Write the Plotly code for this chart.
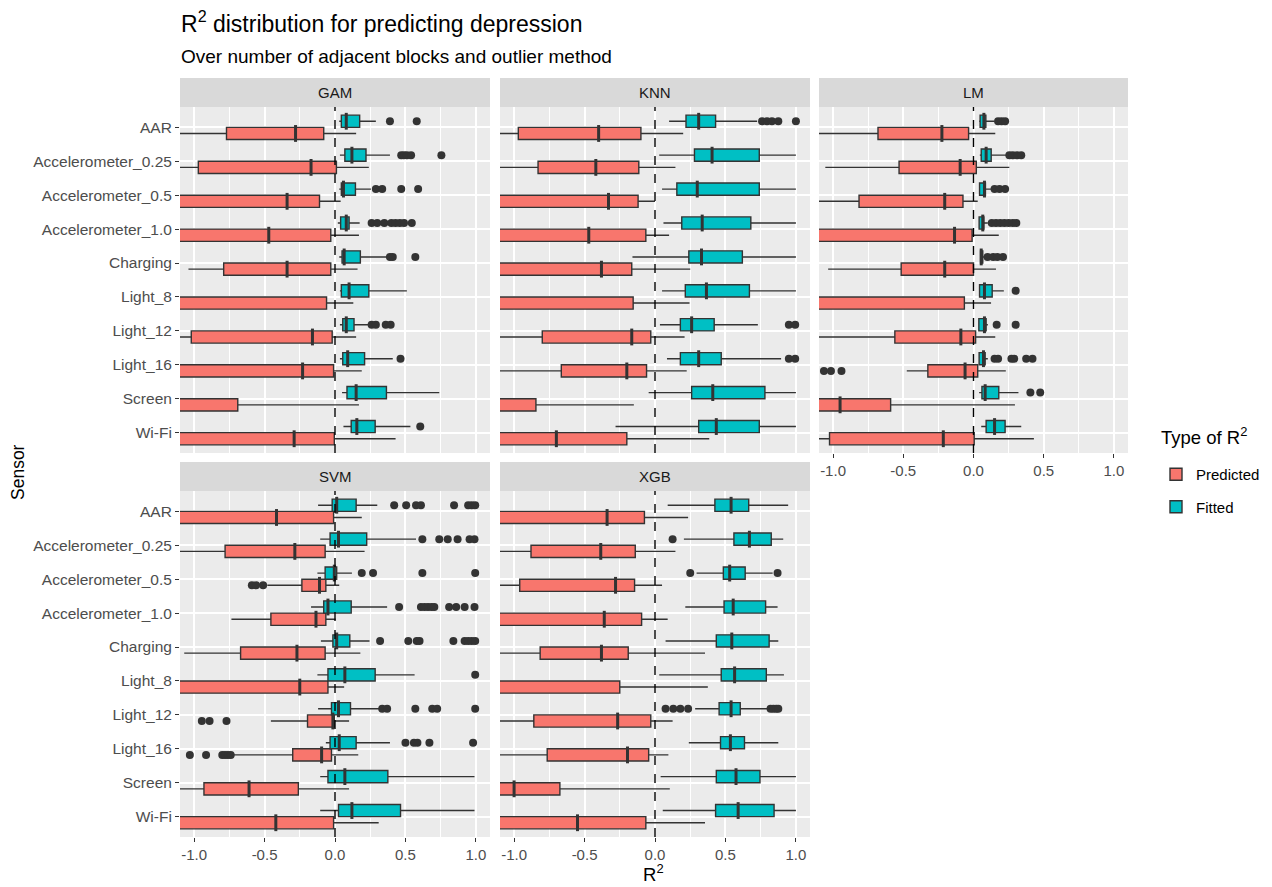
import plotly.graph_objects as go

sensors = ["AAR", "Accelerometer_0.25", "Accelerometer_0.5", "Accelerometer_1.0", "Charging",
           "Light_8", "Light_12", "Light_16", "Screen", "Wi-Fi"]
models = ["GAM", "KNN", "LM", "SVM", "XGB"]

# box summaries: whisker low, q1, median, q3, whisker high
# (values left of the panel edge are clipped in the original, so they are rough)
gam_pred = dict(low=[-1.30, -1.25, -2.5, -2.5, -1.04, -2.5, -1.15, -2.5, -2.5, -2.5],
                q1=[-0.77, -0.97, -1.40, -1.50, -0.79, -1.60, -1.02, -1.45, -1.70, -1.40],
                med=[-0.28, -0.17, -0.34, -0.47, -0.34, -1.20, -0.16, -0.23, -1.25, -0.29],
                q3=[-0.08, 0.01, -0.11, -0.03, -0.03, -0.06, -0.02, -0.01, -0.69, -0.005],
                high=[0.15, 0.24, 0.04, 0.17, 0.16, 0.13, 0.15, 0.19, 0.17, 0.43])
gam_fit = dict(low=[0.03, 0.035, 0.03, 0.02, 0.03, 0.035, 0.035, 0.035, 0.05, 0.06],
               q1=[0.045, 0.07, 0.045, 0.04, 0.05, 0.045, 0.055, 0.055, 0.085, 0.115],
               med=[0.08, 0.12, 0.06, 0.08, 0.065, 0.10, 0.08, 0.09, 0.15, 0.155],
               q3=[0.175, 0.22, 0.145, 0.10, 0.18, 0.24, 0.135, 0.21, 0.365, 0.285],
               high=[0.29, 0.39, 0.255, 0.175, 0.375, 0.51, 0.245, 0.41, 0.74, 0.535])
gam_pred_out = {}
gam_fit_out = {"AAR": [0.39, 0.58],
               "Accelerometer_0.25": [0.47, 0.49, 0.51, 0.54, 0.755],
               "Accelerometer_0.5": [0.29, 0.335, 0.47, 0.59],
               "Accelerometer_1.0": [0.26, 0.30, 0.35, 0.40, 0.43, 0.46, 0.49, 0.545],
               "Charging": [0.39, 0.41, 0.57],
               "Light_12": [0.26, 0.29, 0.36, 0.395],
               "Light_16": [0.465],
               "Wi-Fi": [0.605]}

knn_pred = dict(low=[-1.3, -1.4, -2.5, -2.5, -2.5, -2.5, -1.3, -1.4, -2.5, -2.5],
                q1=[-0.97, -0.83, -1.5, -1.6, -1.5, -1.7, -0.80, -0.665, -1.8, -1.4],
                med=[-0.40, -0.42, -0.33, -0.47, -0.38, -1.2, -0.165, -0.20, -1.3, -0.70],
                q3=[-0.10, -0.115, -0.12, -0.065, -0.165, -0.155, -0.03, -0.06, -0.845, -0.20],
                high=[0.20, 0.145, 0.0, 0.10, 0.25, 0.245, 0.21, 0.225, -0.15, 0.385])
knn_fit = dict(low=[0.10, 0.03, 0.05, 0.06, -0.16, 0.05, 0.035, 0.085, -0.045, -0.28],
               q1=[0.22, 0.28, 0.155, 0.19, 0.24, 0.215, 0.18, 0.18, 0.26, 0.31],
               med=[0.31, 0.405, 0.30, 0.335, 0.33, 0.365, 0.26, 0.31, 0.41, 0.435],
               q3=[0.43, 0.74, 0.74, 0.68, 0.62, 0.67, 0.42, 0.47, 0.78, 0.74],
               high=[0.725, 1.0, 1.0, 1.0, 1.0, 1.0, 0.73, 0.895, 1.0, 1.0])
knn_pred_out = {}
knn_fit_out = {"AAR": [0.76, 0.795, 0.83, 0.875, 1.0],
               "Light_12": [0.95, 0.995],
               "Light_16": [0.95, 0.995]}

lm_pred = dict(low=[-1.3, -1.055, -1.4, -2.5, -1.035, -2.5, -1.3, -0.475, -2.5, -1.4],
               q1=[-0.68, -0.53, -0.815, -1.5, -0.515, -1.6, -0.56, -0.325, -1.5, -1.025],
               med=[-0.225, -0.095, -0.205, -0.135, -0.205, -1.2, -0.09, -0.06, -0.95, -0.215],
               q3=[-0.035, 0.02, -0.075, -0.01, 0.0, -0.065, 0.015, 0.03, -0.59, 0.005],
               high=[0.155, 0.255, 0.03, 0.18, 0.16, 0.125, 0.155, 0.23, 0.295, 0.43])
lm_fit = dict(low=[0.04, 0.045, 0.04, 0.035, 0.045, 0.04, 0.035, 0.035, 0.04, 0.055],
              q1=[0.047, 0.055, 0.043, 0.04, 0.05, 0.043, 0.038, 0.04, 0.06, 0.09],
              med=[0.074, 0.09, 0.078, 0.066, 0.055, 0.078, 0.078, 0.071, 0.083, 0.15],
              q3=[0.088, 0.126, 0.085, 0.074, 0.066, 0.133, 0.09, 0.083, 0.18, 0.225],
              high=[0.15, 0.233, 0.126, 0.102, 0.09, 0.216, 0.102, 0.102, 0.32, 0.34])
lm_pred_out = {"Light_16": [-1.065, -1.015, -0.94]}
lm_fit_out = {"AAR": [0.175, 0.20, 0.225],
              "Accelerometer_0.25": [0.255, 0.28, 0.31, 0.34],
              "Accelerometer_0.5": [0.15, 0.185, 0.225],
              "Accelerometer_1.0": [0.13, 0.16, 0.19, 0.22, 0.25, 0.28, 0.305],
              "Charging": [0.10, 0.14, 0.17, 0.21],
              "Light_8": [0.30],
              "Light_12": [0.165, 0.30],
              "Light_16": [0.15, 0.175, 0.27, 0.29, 0.375, 0.42],
              "Screen": [0.405, 0.475]}

svm_pred = dict(low=[-2.5, -1.3, -0.48, -0.735, -1.07, -2.5, -0.455, -0.73, -1.3, -2.5],
                q1=[-1.5, -0.78, -0.235, -0.455, -0.67, -1.6, -0.195, -0.30, -0.93, -1.5],
                med=[-0.415, -0.285, -0.11, -0.135, -0.27, -0.25, -0.015, -0.095, -0.61, -0.42],
                q3=[-0.01, -0.07, -0.065, -0.065, -0.07, -0.05, -0.005, -0.025, -0.26, -0.01],
                high=[0.19, 0.21, 0.03, 0.005, 0.18, 0.065, 0.10, 0.165, 0.10, 0.31])
svm_fit = dict(low=[-0.12, -0.105, -0.125, -0.17, -0.10, -0.125, -0.12, -0.065, -0.105, -0.105],
               q1=[-0.02, -0.035, -0.07, -0.08, -0.015, -0.05, -0.025, -0.035, -0.05, 0.025],
               med=[0.012, 0.025, -0.005, -0.05, 0.012, 0.07, 0.025, 0.03, 0.07, 0.12],
               q3=[0.15, 0.225, 0.012, 0.115, 0.105, 0.285, 0.11, 0.15, 0.375, 0.465],
               high=[0.30, 0.575, 0.12, 0.37, 0.245, 0.565, 0.33, 0.39, 0.99, 0.99])
svm_pred_out = {"Accelerometer_0.5": [-0.59, -0.56, -0.51],
                "Light_12": [-0.945, -0.89, -0.77],
                "Light_16": [-1.03, -0.915, -0.80, -0.78, -0.76, -0.74]}
svm_fit_out = {"AAR": [0.42, 0.505, 0.575, 0.61, 0.845, 0.945, 0.97, 0.995],
               "Accelerometer_0.25": [0.62, 0.74, 0.80, 0.87, 0.955, 0.99],
               "Accelerometer_0.5": [0.19, 0.27, 0.62, 0.995],
               "Accelerometer_1.0": [0.455, 0.61, 0.635, 0.66, 0.685, 0.705, 0.81, 0.86, 0.92, 0.99],
               "Charging": [0.32, 0.52, 0.58, 0.60, 0.84, 0.92, 0.945, 0.97, 0.995],
               "Light_8": [0.995],
               "Light_12": [0.335, 0.37, 0.57, 0.69, 0.725, 0.995],
               "Light_16": [0.50, 0.56, 0.585, 0.67, 0.98]}

xgb_pred = dict(low=[-2.5, -1.3, -1.4, -2.5, -1.3, -2.5, -1.3, -1.3, -2.5, -2.5],
                q1=[-1.5, -0.88, -0.96, -1.5, -0.815, -1.6, -0.86, -0.765, -1.6, -1.4],
                med=[-0.34, -0.385, -0.28, -0.36, -0.38, -1.2, -0.265, -0.195, -1.0, -0.55],
                q3=[-0.075, -0.14, -0.145, -0.095, -0.19, -0.25, -0.03, -0.045, -0.675, -0.065],
                high=[0.235, 0.145, 0.05, 0.09, 0.355, 0.375, 0.125, 0.095, 0.105, 0.355])
xgb_fit = dict(low=[0.09, 0.205, 0.295, 0.215, 0.075, 0.03, 0.285, 0.24, 0.04, 0.055],
               q1=[0.425, 0.56, 0.485, 0.49, 0.435, 0.47, 0.455, 0.465, 0.435, 0.43],
               med=[0.54, 0.67, 0.53, 0.555, 0.545, 0.565, 0.54, 0.535, 0.575, 0.59],
               q3=[0.665, 0.825, 0.64, 0.785, 0.81, 0.79, 0.605, 0.635, 0.745, 0.845],
               high=[0.945, 0.91, 0.835, 0.87, 0.875, 0.915, 0.81, 0.875, 1.0, 1.0])
xgb_pred_out = {}
xgb_fit_out = {"Accelerometer_0.25": [0.125],
               "Accelerometer_0.5": [0.25, 0.87],
               "Light_12": [0.075, 0.13, 0.18, 0.235, 0.82, 0.84, 0.86, 0.875]}

stats = {
    "GAM": {"Predicted": (gam_pred, gam_pred_out), "Fitted": (gam_fit, gam_fit_out)},
    "KNN": {"Predicted": (knn_pred, knn_pred_out), "Fitted": (knn_fit, knn_fit_out)},
    "LM": {"Predicted": (lm_pred, lm_pred_out), "Fitted": (lm_fit, lm_fit_out)},
    "SVM": {"Predicted": (svm_pred, svm_pred_out), "Fitted": (svm_fit, svm_fit_out)},
    "XGB": {"Predicted": (xgb_pred, xgb_pred_out), "Fitted": (xgb_fit, xgb_fit_out)},
}

colors = {"Predicted": "#F8766D", "Fitted": "#00BFC4"}
dodge = {"Predicted": 0.18, "Fitted": -0.18}   # Fitted sits above (axis is reversed)

# page body has an 8px margin, so the figure is a bit smaller than the window
OFF = 8
W, H = 1272 - OFF, 887 - OFF
def px(x):
    return (x - OFF) / W
def py(y):
    return 1 - (y - OFF) / H

col_px = [(180, 490), (500, 810), (819, 1128)]
row_px = [(107, 453), (491, 837)]
panel_pos = {"GAM": (0, 0), "KNN": (0, 1), "LM": (0, 2), "SVM": (1, 0), "XGB": (1, 1)}
FONT = "Liberation Sans, Arial, sans-serif"
GRID = "white"

fig = go.Figure()
layout = {}
shapes = []
annotations = []

for k, m in enumerate(models):
    s = "" if k == 0 else str(k + 1)
    r, c = panel_pos[m]
    for t in ["Predicted", "Fitted"]:
        st, out = stats[m][t]
        pos = [i + dodge[t] for i in range(len(sensors))]
        fig.add_trace(go.Box(
            orientation="h", y=pos,
            q1=st["q1"], median=st["med"], q3=st["q3"],
            lowerfence=st["low"], upperfence=st["high"],
            width=0.36, whiskerwidth=0, boxpoints=False,
            fillcolor=colors[t], line=dict(color="#333333", width=1.4),
            name=t, legendgroup=t, showlegend=(k == 0),
            legendrank=1 if t == "Predicted" else 2,
            hoverinfo="skip",
            xaxis="x" + s, yaxis="y" + s,
        ))
        # thicker median bar, as ggplot draws it
        fig.add_trace(go.Scatter(
            x=st["med"], y=pos, mode="markers",
            marker=dict(symbol="line-ns", size=12, line=dict(color="#333333", width=3)),
            showlegend=False, hoverinfo="x",
            xaxis="x" + s, yaxis="y" + s,
        ))
        ox, oy = [], []
        for i, name in enumerate(sensors):
            for v in out.get(name, []):
                ox.append(v)
                oy.append(i + dodge[t])
        if ox:
            fig.add_trace(go.Scatter(
                x=ox, y=oy, mode="markers",
                marker=dict(color="#333333", size=8),
                showlegend=False, hoverinfo="x",
                xaxis="x" + s, yaxis="y" + s,
            ))

    show_x = m in ("LM", "SVM", "XGB")
    show_y = c == 0
    x0, x1 = col_px[c]
    y0, y1 = row_px[r]
    layout["xaxis" + s] = dict(
        domain=[px(x0), px(x1)], anchor="y" + s, range=[-1.1, 1.1],
        tickvals=[-1, -0.5, 0, 0.5, 1], ticktext=["-1.0", "-0.5", "0.0", "0.5", "1.0"],
        showticklabels=show_x, ticks="outside" if show_x else "", ticklen=4,
        tickcolor="#333333", tickfont=dict(size=15, color="#4D4D4D", family=FONT),
        showgrid=True, gridcolor=GRID, gridwidth=1.5,
        minor=dict(tickvals=[-0.75, -0.25, 0.25, 0.75], showgrid=True,
                   gridcolor=GRID, gridwidth=0.7, ticks=""),
        zeroline=False, showline=False,
    )
    layout["yaxis" + s] = dict(
        domain=[py(y1), py(y0)], anchor="x" + s, range=[9.6, -0.6],
        tickvals=list(range(len(sensors))), ticktext=sensors,
        showticklabels=show_y, ticks="outside" if show_y else "", ticklen=4,
        tickcolor="#333333", tickfont=dict(size=15.5, color="#4D4D4D", family=FONT),
        showgrid=True, gridcolor=GRID, gridwidth=1.5,
        zeroline=False, showline=False,
    )
    # strip on top of each panel
    strip_h = 29 / (y1 - y0)
    shapes.append(dict(type="rect", xref="x" + s + " domain", yref="y" + s + " domain",
                       x0=0, x1=1, y0=1, y1=1 + strip_h, fillcolor="#D9D9D9",
                       line=dict(width=0), layer="below"))
    annotations.append(dict(text=m, xref="x" + s + " domain", yref="y" + s + " domain",
                            x=0.5, y=1 + strip_h / 2, xanchor="center", yanchor="middle",
                            showarrow=False,
                            font=dict(size=15, color="#1A1A1A", family=FONT)))
    # dashed reference line at zero
    shapes.append(dict(type="line", xref="x" + s, yref="y" + s + " domain",
                       x0=0, x1=0, y0=0, y1=1, layer="above",
                       line=dict(color="black", width=1.4, dash="dash")))

annotations += [
    dict(text="R<sup>2</sup> distribution for predicting depression", xref="paper", yref="paper",
         x=px(179), y=py(22), xanchor="left", yanchor="middle", showarrow=False,
         font=dict(size=23, color="black", family=FONT)),
    dict(text="Over number of adjacent blocks and outlier method", xref="paper", yref="paper",
         x=px(179), y=py(56), xanchor="left", yanchor="middle", showarrow=False,
         font=dict(size=19, color="black", family=FONT)),
    dict(text="Sensor", xref="paper", yref="paper", x=px(18), y=py(472),
         textangle=-90, xanchor="center", yanchor="middle", showarrow=False,
         font=dict(size=17.5, color="black", family=FONT)),
    dict(text="R<sup>2</sup>", xref="paper", yref="paper", x=px(654), y=py(873),
         xanchor="center", yanchor="middle", showarrow=False,
         font=dict(size=18.5, color="black", family=FONT)),
    dict(text="Type of R<sup>2</sup>", xref="paper", yref="paper", x=px(1159), y=py(436),
         xanchor="left", yanchor="middle", showarrow=False,
         font=dict(size=18.5, color="black", family=FONT)),
]

fig.update_layout(
    **layout,
    width=W, height=H,
    margin=dict(l=0, r=0, t=0, b=0),
    paper_bgcolor="white", plot_bgcolor="#EBEBEB",
    boxmode="overlay",
    shapes=shapes, annotations=annotations,
    font=dict(family=FONT, color="black"),
    legend=dict(x=px(1156), y=py(458), xanchor="left", yanchor="top",
                font=dict(size=15, color="black"), tracegroupgap=10,
                bgcolor="rgba(0,0,0,0)"),
    showlegend=True,
)

fig.write_html("out.html")
